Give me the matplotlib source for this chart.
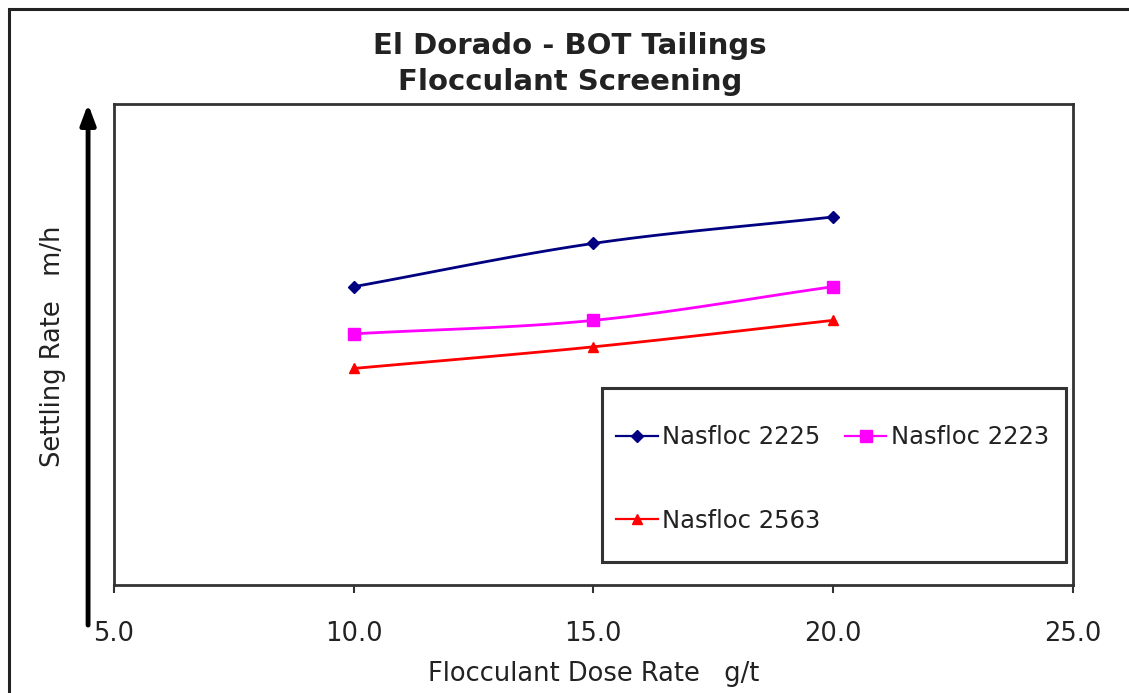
import numpy as np
import matplotlib
matplotlib.use("Agg")
import matplotlib.pyplot as plt
from matplotlib.patches import Rectangle

# data (y axis has no scale, arbitrary units 0-10)
dose = [10.0, 15.0, 20.0]
nasfloc_2225 = [6.2, 7.1, 7.65]
nasfloc_2223 = [5.22, 5.5, 6.2]
nasfloc_2563 = [4.5, 4.95, 5.5]
x_ticks = [5.0, 10.0, 15.0, 20.0, 25.0]

series = [
    ("Nasfloc 2225", nasfloc_2225, "#000080", "D", 6.5),
    ("Nasfloc 2563", nasfloc_2563, "#FF0000", "^", 6.5),
    ("Nasfloc 2223", nasfloc_2223, "#FF00FF", "s", 9),
]


def smooth(xs, ys, n=40):
    """Catmull-Rom curve through the points, like Excel's smoothed line."""
    xs = np.asarray(xs, float)
    ys = np.asarray(ys, float)
    px = np.concatenate([[2 * xs[0] - xs[1]], xs, [2 * xs[-1] - xs[-2]]])
    py = np.concatenate([[2 * ys[0] - ys[1]], ys, [2 * ys[-1] - ys[-2]]])
    out_x, out_y = [], []
    t = np.linspace(0, 1, n)
    for i in range(1, len(px) - 2):
        for arr, out in ((px, out_x), (py, out_y)):
            p0, p1, p2, p3 = arr[i - 1:i + 3]
            out.extend(0.5 * ((2 * p1) + (-p0 + p2) * t
                              + (2 * p0 - 5 * p1 + 4 * p2 - p3) * t ** 2
                              + (-p0 + 3 * p1 - 3 * p2 + p3) * t ** 3))
    return out_x, out_y


text_color = "#222222"
plt.rcParams["font.family"] = "DejaVu Sans"

fig = plt.figure(figsize=(11.29, 6.93), dpi=100)
ax = fig.add_axes([0.101, 0.156, 0.849, 0.694])

handles = {}
for name, ys, color, marker, ms in series:
    sx, sy = smooth(dose, ys)
    ax.plot(sx, sy, color=color, lw=2)
    ax.plot(dose, ys, linestyle="none", marker=marker, color=color, ms=ms)
    handles[name], = ax.plot([], [], color=color, lw=1.6, marker=marker,
                             ms=ms, label=name)

ax.set_xlim(5, 25)
ax.set_ylim(0, 10)
ax.set_xticks(x_ticks)
ax.set_xticklabels([f"{v:.1f}" for v in x_ticks])
ax.set_yticks([])
ax.tick_params(axis="x", direction="out", length=6, width=1.5, colors="#333333",
               labelsize=18.5, labelcolor=text_color, pad=20)
for sp in ax.spines.values():
    sp.set_color("#333333")
    sp.set_linewidth(2)

ax.set_xlabel("Flocculant Dose Rate   g/t", fontsize=18.5, color=text_color,
              labelpad=10)

# legend box drawn on its own, entries placed inside without a frame
ax.add_patch(Rectangle((0.509, 0.048), 0.484, 0.362, transform=ax.transAxes,
                       fill=True, facecolor="white", edgecolor="#333333",
                       lw=2.2, zorder=4))
leg = ax.legend(handles=[handles["Nasfloc 2225"], handles["Nasfloc 2563"],
                         handles["Nasfloc 2223"]],
                ncol=2, loc="upper left", bbox_to_anchor=(0.524, 0.332),
                fontsize=17.5, frameon=False, borderpad=0, labelspacing=2.45,
                handlelength=1.7, handletextpad=0.2, columnspacing=1.0,
                borderaxespad=0)
leg.set_zorder(5)
for t in leg.get_texts():
    t.set_color(text_color)

# title
fig.text(0.505, 0.933, "El Dorado - BOT Tailings", ha="center", va="center",
         fontsize=21, fontweight="bold", color=text_color)
fig.text(0.505, 0.882, "Flocculant Screening", ha="center", va="center",
         fontsize=21, fontweight="bold", color=text_color)

# y label and hand drawn arrow
fig.text(0.047, 0.50, "Settling Rate   m/h", rotation=90, ha="center",
         va="center", fontsize=18.5, color=text_color)
ax.annotate("", xy=(0.078, 0.85), xytext=(0.078, 0.098), xycoords="figure fraction",
            textcoords="figure fraction",
            arrowprops=dict(arrowstyle="-|>,head_width=0.45,head_length=1.2",
                            color="black", lw=3.5, shrinkA=0, shrinkB=0))

# outer border (top and left visible only)
fig.patches.append(Rectangle((0.008, -0.05), 1.1, 1.037, transform=fig.transFigure,
                             fill=False, edgecolor="#222222", lw=2.2))

fig.savefig("out.png", dpi=100)
